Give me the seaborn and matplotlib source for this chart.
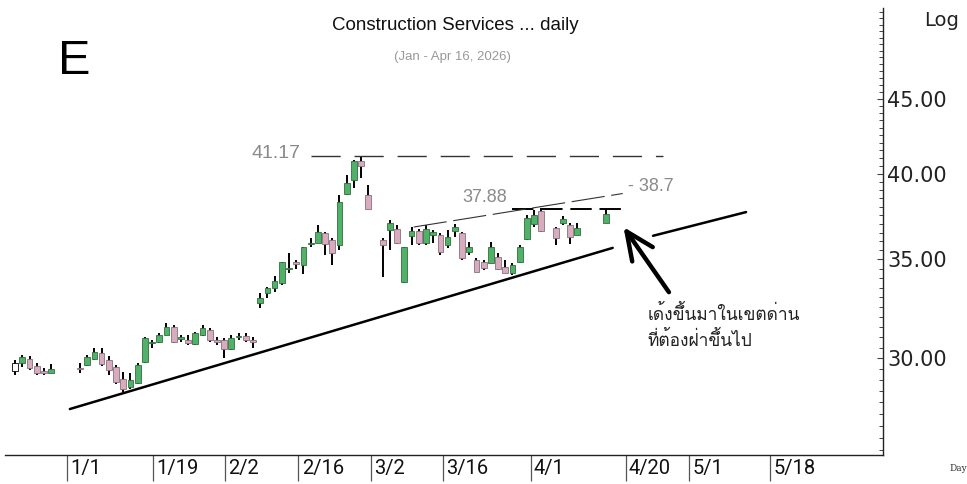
import numpy as np
import pandas as pd
import matplotlib
matplotlib.use("Agg")
import matplotlib.pyplot as plt
import matplotlib.ticker as mticker
from matplotlib import font_manager
import seaborn as sns

# Daily candles. x = weekday count from 23 Dec 2025 (holidays leave gaps)
day_pos = [0, 1, 2, 3, 4, 5,
           9, 10, 11, 12, 13, 14, 15, 16, 17, 18, 19, 20, 21, 22, 23, 24, 25, 26, 27, 28, 29,
           30, 31, 32, 33, 34, 35, 36, 37, 38, 39, 40, 41, 42, 43, 44, 45, 46, 47, 48, 49,
           51, 52, 53, 54, 55, 56, 57, 58, 59, 60, 61, 62, 63, 64, 65, 66, 67, 68, 69, 70,
           71, 72, 73, 75, 76, 77, 78, 82]
opens = [29.40, 29.77, 29.96, 29.63, 29.40, 29.31,
         29.54, 29.68, 29.96, 30.24, 29.91, 29.59, 29.04, 28.68, 28.86, 29.82, 30.72, 30.76,
         31.10, 31.49, 30.91, 30.86, 30.67, 31.10, 31.35, 30.86, 30.86,
         30.43, 31.00, 31.05, 30.86, 32.70, 33.21, 33.47, 33.73, 34.49, 34.86, 34.70, 35.86,
         35.91, 36.47, 36.08, 35.80, 38.77, 39.63, 40.82, 38.71,
         36.08, 36.65, 36.71, 33.79, 36.30, 36.59, 35.91, 36.36, 36.36, 35.80, 36.59, 36.47,
         35.41, 34.97, 34.86, 34.81, 35.13, 34.59, 34.27, 34.86,
         36.14, 37.00, 37.75, 36.76, 37.05, 36.94, 36.36, 37.05]
highs = [29.91, 30.15, 30.10, 29.77, 29.54, 29.72,
         29.77, 30.15, 30.48, 30.48, 30.10, 29.68, 29.36, 29.31, 29.77, 31.00, 30.86, 31.20,
         31.69, 31.59, 31.10, 31.10, 31.25, 31.59, 31.44, 31.00, 30.96,
         31.10, 31.20, 31.20, 31.00, 33.21, 33.52, 34.11, 34.86, 35.35, 34.97, 35.69, 36.19,
         36.94, 36.53, 36.19, 38.71, 39.94, 40.88, 41.17, 39.32,
         36.19, 37.23, 36.94, 35.69, 36.82, 36.71, 36.94, 36.65, 36.47, 36.65, 37.00, 36.53,
         35.97, 35.08, 34.97, 35.97, 35.35, 34.97, 34.81, 35.80,
         37.52, 37.81, 37.93, 36.82, 37.46, 37.05, 37.05, 37.93]
lows = [29.22, 29.59, 29.45, 29.22, 29.22, 29.31,
        29.31, 29.63, 29.91, 29.63, 29.22, 28.81, 28.45, 28.59, 28.81, 29.77, 30.48, 30.72,
        31.10, 30.72, 30.76, 30.62, 30.62, 31.05, 30.76, 30.62, 30.01,
        30.38, 30.86, 30.76, 30.48, 32.44, 32.95, 33.26, 33.63, 34.27, 34.49, 34.22, 35.69,
        35.91, 35.24, 34.70, 35.52, 38.71, 39.13, 39.75, 37.87,
        34.06, 35.52, 35.86, 33.73, 35.80, 35.80, 35.80, 35.91, 35.24, 35.63, 36.24, 34.97,
        35.24, 34.32, 34.43, 34.81, 34.43, 34.27, 34.16, 34.81,
        36.08, 36.82, 36.53, 35.80, 36.94, 35.86, 36.36, 37.05]
closes = [29.77, 30.05, 29.54, 29.31, 29.31, 29.49,
          29.50, 30.05, 30.29, 29.72, 29.45, 28.90, 28.59, 28.99, 29.68, 30.96, 30.76, 31.10,
          31.49, 30.76, 31.00, 30.72, 31.20, 31.44, 30.86, 30.76, 30.43,
          30.96, 31.05, 30.86, 30.76, 32.95, 33.47, 33.84, 34.86, 34.54, 34.75, 35.69, 35.91,
          36.53, 35.86, 35.35, 38.29, 39.44, 40.82, 40.50, 37.87,
          35.80, 37.05, 35.91, 35.69, 36.59, 35.91, 36.71, 36.53, 35.41, 36.24, 36.82, 35.08,
          35.69, 34.32, 34.54, 35.69, 34.49, 34.27, 34.70, 35.69,
          37.35, 37.52, 36.59, 36.19, 37.29, 36.24, 36.76, 37.58]

tick_pos = [7.2, 19.2, 29.1, 39.3, 49.4, 59.4, 71.5, 84.7, 93.5, 104.7]
tick_labels = ["1/1", "1/19", "2/2", "2/16", "3/2", "3/16", "4/1", "4/20", "5/1", "5/18"]

# hand drawn lines
resist_top = 41.17
resist_top_x = [41.0, 89.9]
resist_mid = 37.88
resist_mid_x = [69.0, 84.3]
slant_x = [55.3, 84.3]
slant_y = [36.82, 38.80]
trend_a_x = [7.6, 82.9]
trend_a_y = [27.71, 35.64]
trend_b_x = [88.5, 101.4]
trend_b_y = [36.32, 37.69]
arrow_tip = (84.4, 36.82)
arrow_tail = (90.7, 33.26)

df = pd.DataFrame({"pos": day_pos, "open": opens, "high": highs,
                   "low": lows, "close": closes})
df["up"] = df["close"] >= df["open"]

sns.set_style("white")
plt.rcParams["font.family"] = ["DejaVu Sans"]

# find a font that has Thai glyphs for the note
thai_font = None
try:
    from fontTools.ttLib import TTFont
    for f in font_manager.fontManager.ttflist:
        try:
            cmap = TTFont(f.fname, fontNumber=0, lazy=True).getBestCmap()
        except Exception:
            continue
        if cmap and 0x0E14 in cmap and 0x0E49 in cmap:
            thai_font = f.name
            if "Thai" in f.name or "Loma" in f.name or "Garuda" in f.name:
                break
except Exception:
    pass
note_family = [thai_font, "DejaVu Sans"] if thai_font else ["DejaVu Sans"]

fig = plt.figure(figsize=(9.67, 4.84), dpi=100)
ax = fig.add_axes([5 / 967, 29 / 484, 878 / 967, 447 / 484])

green, pink = "#52b168", "#d6acbe"
body_col = np.where(df["up"], green, pink)
body_col[0] = "white"
edge_col = np.where(df["up"], "#2f6e3e", "#8a6f7a")
edge_col[0] = "black"

ax.vlines(df["pos"], df["low"], df["high"], color="black", lw=1.4, zorder=2)
bottoms = np.minimum(df["open"], df["close"])
heights = np.maximum((df["close"] - df["open"]).abs(), 0.05)
ax.bar(df["pos"], heights, bottom=bottoms, width=0.8, color=body_col,
       edgecolor=edge_col, linewidth=0.6, zorder=3)

# trend line (broken where the arrow crosses it)
sns.lineplot(x=trend_a_x, y=trend_a_y, ax=ax, color="black", lw=1.8)
sns.lineplot(x=trend_b_x, y=trend_b_y, ax=ax, color="black", lw=1.8)

ax.plot(resist_top_x, [resist_top] * 2, color="#333333", lw=1.0,
        dashes=(21, 10))
ax.plot(resist_mid_x, [resist_mid] * 2, color="black", lw=1.4,
        dashes=(11, 4))
ax.plot(slant_x, slant_y, color="#333333", lw=0.8, dashes=(30, 6))

ax.text(39.6, 41.30, f"{resist_top:.2f}", ha="right", va="center",
        fontsize=14, color="#8a8a8a", family="Liberation Sans")
ax.text(68.2, 38.55, f"{resist_mid:.2f}", ha="right", va="center",
        fontsize=13, color="#8a8a8a", family="Liberation Sans")
ax.text(85.0, 39.25, "- 38.7", ha="left", va="center",
        fontsize=13, color="#8a8a8a", family="Liberation Sans")

ax.annotate("", xy=arrow_tip, xytext=arrow_tail,
            arrowprops=dict(arrowstyle="->,head_length=2.0,head_width=0.9",
                            lw=3.2, color="black", shrinkA=0, shrinkB=0))

ax.set_yscale("log")
ax.set_xlim(-1.4, 120.4)
ax.set_ylim(25.79, 51.84)

ax.yaxis.tick_right()
ax.yaxis.set_major_locator(mticker.FixedLocator([30, 35, 40, 45]))
ax.yaxis.set_major_formatter(mticker.FormatStrFormatter("%.2f"))
ax.yaxis.set_minor_locator(mticker.FixedLocator(np.arange(26, 52, 0.5)))
ax.yaxis.set_minor_formatter(mticker.NullFormatter())
ax.tick_params(axis="y", which="major", direction="in", length=4, width=0.8,
               color="#444444", labelsize=15, pad=3, labelcolor="#222222")
ax.tick_params(axis="y", which="minor", direction="in", length=3, width=0.7,
               color="#444444")

ax.set_xticks(tick_pos)
ax.set_xticklabels([])
ax.tick_params(axis="x", which="major", bottom=True, direction="out",
               length=19, width=0.9, color="#555555")
for p, lab in zip(tick_pos, tick_labels):
    ax.text(p + 0.45, -0.008, lab, transform=ax.get_xaxis_transform(),
            ha="left", va="top", fontsize=14.5, color="#111111",
            family=["Roboto", "DejaVu Sans"])

for s in ["top", "left"]:
    ax.spines[s].set_visible(False)
for s in ["right", "bottom"]:
    ax.spines[s].set_color("#222222")
    ax.spines[s].set_linewidth(1.0)
ax.set_xlabel("")
ax.set_ylabel("")

fig.text(0.471, 0.948, "Construction Services ... daily", ha="center",
         va="center", fontsize=13.5, color="#111111", family="Liberation Sans")
fig.text(0.468, 0.882, "(Jan - Apr 16, 2026)", ha="center", va="center",
         fontsize=9.5, color="#999999", family="Liberation Sans")
fig.text(0.077, 0.872, "E", ha="center", va="center", fontsize=35,
         color="black", family="Liberation Sans")
fig.text(0.974, 0.958, "Log", ha="center", va="center", fontsize=14,
         color="#222222")
fig.text(0.982, 0.033, "Day", ha="left", va="center", fontsize=6.5,
         color="#333333", family="DejaVu Serif")

fig.text(0.670, 0.351, "เด้งขึ้นมาในเขตด่าน", ha="left", va="center",
         fontsize=12.5, color="#222222", family=note_family)
fig.text(0.670, 0.297, "ที่ต้องฝ่าขึ้นไป", ha="left", va="center",
         fontsize=12.5, color="#222222", family=note_family)

fig.savefig("out.png", dpi=100)
